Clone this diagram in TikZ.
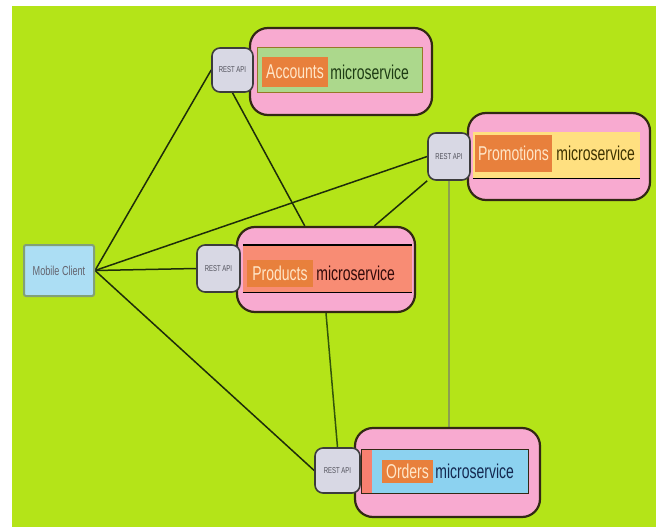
\documentclass[tikz,border=0pt]{standalone}
\usepackage{fontspec}
\newfontfamily\narrow{Liberation Sans}[FakeStretch=0.7]
\usepackage{xcolor}
\usepackage{tikz}
\usetikzlibrary{positioning,calc}

\definecolor{bggreen}{RGB}{180,228,24}
\definecolor{svcpink}{RGB}{248,170,208}
\definecolor{svcedge}{RGB}{50,40,20}
\definecolor{restfill}{RGB}{216,216,228}
\definecolor{restedge}{RGB}{60,60,60}
\definecolor{resttext}{RGB}{80,80,90}
\definecolor{tagorange}{RGB}{232,128,60}
\definecolor{tagtext}{RGB}{255,230,200}
\definecolor{accgreen}{RGB}{172,216,140}
\definecolor{accline}{RGB}{150,120,40}
\definecolor{accword}{RGB}{30,60,20}
\definecolor{promyellow}{RGB}{255,224,128}
\definecolor{promword}{RGB}{60,50,0}
\definecolor{prodsalmon}{RGB}{248,140,116}
\definecolor{prodword}{RGB}{50,10,10}
\definecolor{ordblue}{RGB}{140,210,240}
\definecolor{ordsalmon}{RGB}{248,128,112}
\definecolor{ordword}{RGB}{20,40,80}
\definecolor{mobfill}{RGB}{172,222,244}
\definecolor{mobedge}{RGB}{130,160,120}
\definecolor{mobtext}{RGB}{100,100,110}
\definecolor{linkdark}{RGB}{30,45,10}
\definecolor{linkolive}{RGB}{50,85,10}
\definecolor{linkgray}{RGB}{140,160,80}

\pgfdeclarelayer{bg}
\pgfdeclarelayer{links}
\pgfsetlayers{bg,links,main}

\tikzset{
  service/.style={draw=svcedge, line width=2.2pt, fill=svcpink, rounded corners=18pt, inner sep=0pt},
  restbox/.style={draw=restedge, line width=1.6pt, fill=restfill, rounded corners=8pt, inner sep=0pt,
    text=resttext, font=\narrow\fontsize{8.5}{8.5}\selectfont},
  tag/.style={fill=tagorange, text=tagtext, inner sep=0pt, font=\narrow\fontsize{20}{20}\selectfont},
  svctext/.style={inner sep=1pt, font=\narrow\fontsize{20}{20}\selectfont},
  link/.style={draw=linkdark, line width=1.5pt},
}

\begin{document}
\begin{tikzpicture}[x=1pt, y=-1pt]
\useasboundingbox (0,0) rectangle (656,527);
\begin{pgfonlayer}{bg}
\fill[white] (0,0) rectangle (656,527);
\fill[bggreen] (12,6) rectangle (656,527);
\end{pgfonlayer}

% Mobile client on the left
\node[draw=mobedge, line width=2pt, fill=mobfill, rounded corners=2pt, minimum width=70pt,
  minimum height=51pt, inner sep=0pt, text=mobtext, font=\narrow\fontsize{13}{13}\selectfont]
  (mobile) at (59,270.5) {Mobile Client};

% Accounts
\node[service, minimum width=182pt, minimum height=87pt] (accOuter) at (341,71.5) {};
\node[draw=accline, line width=1pt, fill=accgreen, minimum width=165pt, minimum height=44pt,
  inner sep=0pt] (accInner) at (339.5,70) {};
\node[tag, minimum width=66pt, minimum height=30pt] (accTag) at (295,72) {Accounts};
\node[svctext, right=1pt of accTag, text=accword] (accWord) {microservice};
\node[restbox, minimum width=41pt, minimum height=44pt] (accRest) at (232.5,70) {REST API};

% Promotions
\node[service, minimum width=182pt, minimum height=87pt] (promOuter) at (559,156.5) {};
\node[fill=promyellow, minimum width=167pt, minimum height=46pt, inner sep=0pt]
  (promInner) at (556.5,155) {};
\draw[line width=1.4pt] (promInner.south west) -- (promInner.south east);
\node[tag, minimum width=77pt, minimum height=37pt] (promTag) at (513.5,153.5) {Promotions};
\node[svctext, right=3pt of promTag, text=promword] (promWord) {microservice};
\node[restbox, minimum width=42pt, minimum height=47pt] (promRest) at (449,156.5) {REST API};

% Products
\node[service, minimum width=178pt, minimum height=85pt] (prodOuter) at (326,269.5) {};
\node[fill=prodsalmon, minimum width=169pt, minimum height=47pt, inner sep=0pt]
  (prodInner) at (327.5,268.5) {};
\draw[line width=1.4pt] (prodInner.north west) -- (prodInner.north east);
\draw[line width=1.4pt] (prodInner.south west) -- (prodInner.south east);
\node[tag, minimum width=66pt, minimum height=27pt] (prodTag) at (280,273.5) {Products};
\node[svctext, right=2pt of prodTag, text=prodword] (prodWord) {microservice};
\node[restbox, minimum width=43pt, minimum height=47pt] (prodRest) at (218.5,268.5) {REST API};

% Orders
\node[service, minimum width=185pt, minimum height=89pt] (ordOuter) at (447.5,472.5) {};
\node[fill=ordblue, minimum width=166pt, minimum height=43pt, inner sep=0pt]
  (ordInner) at (445,471.5) {};
\fill[ordsalmon] (ordInner.north west) rectangle ++(10,43);
\draw[line width=1.2pt, draw=svcedge] (ordInner.north west) rectangle (ordInner.south east);
\node[tag, minimum width=51pt, minimum height=23pt] (ordTag) at (407.5,471.5) {Orders};
\node[svctext, right=1pt of ordTag, text=ordword] (ordWord) {microservice};
\node[restbox, minimum width=45pt, minimum height=45pt] (ordRest) at (337.5,470.5) {REST API};

% Connections
\begin{pgfonlayer}{links}
\draw[link] (mobile.east) -- (accRest.west);
\draw[link] (mobile.east) -- (promRest.west);
\draw[link] (mobile.east) -- (prodRest.west);
\draw[link] (mobile.east) -- (ordRest.west);
\draw[link] (accRest.south) -- (prodOuter.116);
\draw[link] (promRest.south west) -- (prodOuter.42);
\draw[link, draw=linkolive] (prodOuter.south) -- (ordRest.north);
\draw[link, draw=linkgray, line width=2pt] (promRest.south) -- (promRest.south |- ordOuter.north);
\end{pgfonlayer}
\end{tikzpicture}
\end{document}
